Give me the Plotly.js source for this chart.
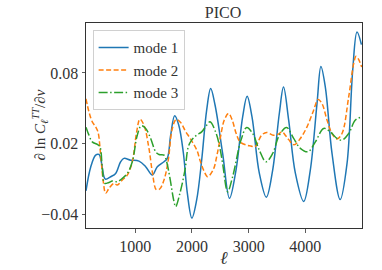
<!DOCTYPE html>
<html>
<head>
<meta charset="utf-8">
<script src="https://cdn.plot.ly/plotly-3.0.1.min.js"></script>
<style>html,body{margin:0;padding:0;background:#fff;}#chart{width:382px;height:270px;}</style>
</head>
<body>
<div id="chart"></div>
<script>
// mode 1 (solid blue)
const ell1 = [130,212,300,359,400,447,477,565,653,741,800,918,1065,1183,1300,1388,1506,1565,1624,1694,1765,1847,1918,1998,2082,2171,2259,2330,2406,2541,2662,2777,2894,2973,3059,3188,3312,3424,3541,3615,3706,3824,3971,4088,4206,4275,4353,4471,4615,4736,4836,4912,4990];
const mode1 = [-0.020,0.000,0.0103,0.0108,0.0046,-0.0081,-0.0103,-0.0081,-0.0053,0.0046,0.0075,0.006,0.0052,0.0004,-0.0067,0.0004,0.0046,0.0075,0.0272,0.0436,0.036,0.0125,-0.022,-0.0432,-0.028,0.006,0.0484,0.0667,0.053,0.0117,-0.0264,-0.0024,0.0427,0.0602,0.0427,-0.005,-0.0255,-0.0024,0.0456,0.068,0.040,-0.005,-0.0291,-0.0024,0.054,0.0854,0.068,0.0117,-0.0275,0.0032,0.0823,0.1147,0.1040];

// mode 2 (dashed orange)
const ell2 = [130,182,241,300,341,389,435,477,535,624,682,771,859,947,1024,1082,1153,1241,1300,1370,1430,1506,1577,1653,1720,1800,1880,1960,2024,2090,2141,2210,2275,2376,2440,2500,2570,2645,2710,2777,2847,2965,3040,3112,3229,3318,3435,3520,3590,3650,3706,3800,3912,4030,4147,4224,4294,4383,4471,4559,4647,4765,4853,4894,4935,4995];
const mode2 = [0.058,0.047,0.0385,0.0343,0.030,0.0103,-0.0123,-0.0222,-0.018,-0.0137,-0.0152,-0.0109,-0.0067,0.0046,0.030,0.0408,0.0357,0.0159,-0.0039,-0.019,-0.0185,-0.0109,0.0046,0.0328,0.0405,0.038,0.031,0.025,0.020,0.014,0.006,-0.003,-0.008,-0.002,0.010,0.025,0.040,0.0456,0.040,0.029,0.0215,0.0187,0.018,0.0173,0.0272,0.0295,0.0272,0.028,0.030,0.027,0.0235,0.0190,0.0244,0.0343,0.0484,0.0574,0.054,0.040,0.0286,0.0240,0.0286,0.0597,0.0879,0.0941,0.092,0.085];

// mode 3 (dash-dot green)
const ell3 = [130,182,241,330,376,418,459,535,594,682,771,859,947,1035,1106,1183,1271,1359,1418,1506,1553,1612,1682,1712,1788,1876,1935,1994,2082,2171,2259,2318,2424,2494,2541,2629,2718,2865,2965,3071,3188,3306,3424,3541,3670,3794,3912,4047,4177,4324,4441,4559,4647,4765,4883,4995];
const mode3 = [0.034,0.0272,0.0215,0.0193,0.0173,-0.001,-0.0137,-0.0129,-0.0118,-0.0123,-0.0095,-0.0053,0.0046,0.0272,0.0351,0.0329,0.0244,0.0131,0.0108,0.0103,0.0046,-0.0095,-0.029,-0.0335,-0.022,-0.0024,0.0173,0.023,0.0272,0.030,0.0357,0.0385,0.029,0.016,0.0032,-0.0208,-0.008,0.023,0.0337,0.0286,0.0145,0.0046,0.0117,0.0272,0.0337,0.0244,0.016,0.0131,0.0215,0.0329,0.030,0.0244,0.023,0.0286,0.040,0.0427];

const seriesNames = ["mode 1","mode 2","mode 3"];
const xTicks = [1000,2000,3000,4000];
const xTickText = ["1000","2000","3000","4000"];
const yTicks = [-0.04,0.02,0.08];
const yTickText = ["\u22120.04","0.02","0.08"];
const xLabel = "<i>ℓ</i>";
const yLabel = "∂ ln <i>C</i><sub><i>ℓ</i></sub><sup><i>TT</i></sup>/∂<i>ν</i>";

const FONT = "Liberation Serif";

const traces = [
  {x: ell1, y: mode1, name: seriesNames[0], mode: "lines",
   line: {color: "#1f77b4", width: 1.5, shape: "spline", smoothing: 1}},
  {x: ell2, y: mode2, name: seriesNames[1], mode: "lines",
   line: {color: "#ff7f0e", width: 1.5, dash: "5px,2.5px", shape: "spline", smoothing: 1}},
  {x: ell3, y: mode3, name: seriesNames[2], mode: "lines",
   line: {color: "#2ca02c", width: 1.5, dash: "9px,2.5px,1.5px,2.5px", shape: "spline", smoothing: 1}}
];

const layout = {
  width: 382, height: 270,
  margin: {l: 86, r: 20, t: 23, b: 42},
  paper_bgcolor: "#fff", plot_bgcolor: "#fff",
  font: {family: FONT, size: 15, color: "#333"},
  title: {text: "PICO", font: {family: FONT, size: 16, color: "#333"}, x: 0.584, xanchor: "center", y: 0.955, yanchor: "middle"},
  showlegend: true,
  legend: {x: 0.024, y: 0.965, xanchor: "left", yanchor: "top",
           bgcolor: "rgba(255,255,255,0.8)", bordercolor: "#d0d0d0", borderwidth: 1,
           font: {family: FONT, size: 15, color: "#333"}, tracegroupgap: 0},
  xaxis: {range: [130, 5000], tickvals: xTicks, ticktext: xTickText,
          showgrid: false, zeroline: false, showline: true, mirror: true,
          linecolor: "#333", linewidth: 1, ticks: "outside", ticklen: 3.5, tickwidth: 0.8, tickcolor: "#333",
          tickfont: {family: FONT, size: 16, color: "#333"}},
  yaxis: {range: [-0.0516, 0.1224], tickvals: yTicks, ticktext: yTickText,
          showgrid: false, zeroline: false, showline: true, mirror: true,
          linecolor: "#333", linewidth: 1, ticks: "outside", ticklen: 3.5, tickwidth: 0.8, tickcolor: "#333",
          tickfont: {family: FONT, size: 16, color: "#333"}},
  annotations: [
    {text: yLabel, xref: "paper", yref: "paper", x: -0.17, y: 0.5, xanchor: "center", yanchor: "middle",
     textangle: -90, showarrow: false, font: {family: FONT, size: 15, color: "#333"}},
    {text: xLabel, xref: "paper", yref: "paper", x: 0.5, y: -0.146, xanchor: "center", yanchor: "middle",
     showarrow: false, font: {family: FONT, size: 18, color: "#333"}}
  ]
};

Plotly.newPlot("chart", traces, layout, {displayModeBar: false, staticPlot: true});
</script>
</body>
</html>
